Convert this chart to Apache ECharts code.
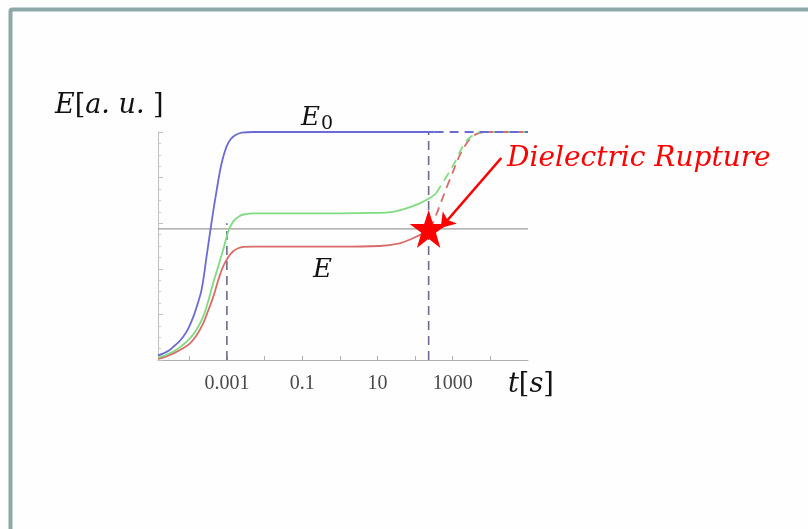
<!DOCTYPE html>
<html>
<head>
<meta charset="utf-8">
<script src="https://cdn.jsdelivr.net/npm/echarts@6/dist/echarts.min.js"></script>
<style>
html,body{margin:0;padding:0;background:#fefefe;}
#chart{width:808px;height:529px;}
</style>
</head>
<body>
<div id="chart"></div>
<script>
// x values are log10(t [s])
const xMin = -4.83, xMax = 5;
const tickValues = [-3, -1, 1, 3];
const tickLabels = ['0.001', '0.1', '10', '1000'];
const decadeTicks = [-4, -3, -2, -1, 0, 1, 2, 3, 4];

const blueSolidX = [-4.83, -4.7, -4.55, -4.42, -4.29, -4.16, -4.02, -3.89, -3.78, -3.67, -3.54, -3.41, -3.27, -3.14, -3.01, -2.9, -2.78, -2.6, -2.3, 0, 2.52];
const blueSolidY = [0.02, 0.028, 0.041, 0.058, 0.077, 0.102, 0.14, 0.19, 0.245, 0.31, 0.453, 0.6, 0.746, 0.863, 0.936, 0.968, 0.986, 0.997, 1, 1, 1];
const blueDashX = [2.52, 5];
const blueDashY = [1, 1];

const greenSolidX = [-4.83, -4.62, -4.42, -4.2, -3.98, -3.8, -3.63, -3.5, -3.36, -3.23, -3.1, -2.97, -2.83, -2.66, -2.5, -2.3, 0, 0.88, 1.41, 1.77, 2.12, 2.38, 2.56];
const greenSolidY = [0.01, 0.022, 0.037, 0.062, 0.095, 0.135, 0.19, 0.255, 0.34, 0.41, 0.482, 0.56, 0.608, 0.632, 0.64, 0.643, 0.643, 0.645, 0.65, 0.665, 0.687, 0.709, 0.731];
const greenDashX = [2.56, 3.0, 3.34, 3.58, 3.8, 5];
const greenDashY = [0.731, 0.85, 0.955, 0.99, 1, 1];

const redSolidX = [-4.83, -4.62, -4.42, -4.2, -3.98, -3.8, -3.63, -3.5, -3.36, -3.23, -3.1, -2.97, -2.83, -2.7, -2.57, -2.3, 0, 1.06, 1.59, 1.94, 2.2, 2.36];
const redSolidY = [0.005, 0.015, 0.029, 0.048, 0.073, 0.11, 0.161, 0.215, 0.278, 0.35, 0.41, 0.45, 0.477, 0.49, 0.496, 0.497, 0.497, 0.5, 0.512, 0.534, 0.555, 0.575];
const redDashX = [2.36, 2.48, 2.92, 3.34, 3.71, 4.0, 5];
const redDashY = [0.575, 0.605, 0.79, 0.943, 0.996, 1, 1];

const breakdownLevel = 0.575;
const vlineX = [-3, 2.36];
const vlineTop = [0.6, 1];
const starPoint = [2.36, 0.575];
const arrowFrom = [4.29, 0.886];
const arrowTo = [2.68, 0.579];

function pairs(xs, ys) { return xs.map((x, i) => [x, ys[i]]); }

const BLUE = '#6b6bd6', GREEN = '#7fdc7f', RED = '#d96b6b';
const STAR = 'path://M50,0 L61.8,35.3 L100,35.3 L69.1,57.1 L80.9,95.1 L50,72 L19.1,95.1 L30.9,57.1 L0,35.3 L38.2,35.3 Z';

function lineSeries(xs, ys, color, dashed, z) {
  return {
    type: 'line', data: pairs(xs, ys), showSymbol: false, smooth: 0.4,
    lineStyle: { color: color, width: 1.8, type: dashed ? [9, 6] : 'solid' },
    z: z, silent: true
  };
}

const series = [
  { type: 'line', data: [[xMin, breakdownLevel], [xMax, breakdownLevel]], showSymbol: false,
    lineStyle: { color: '#9a9a9a', width: 1.2 }, z: 1, silent: true },
  ...vlineX.map((x, i) => ({ type: 'line', data: [[x, 0], [x, vlineTop[i]]], showSymbol: false,
    lineStyle: { color: '#6a6a92', width: 1.6, type: [9, 6] }, z: 2, silent: true })),
  lineSeries(redDashX, redDashY, RED, true, 3),
  lineSeries(greenDashX, greenDashY, GREEN, true, 3),
  lineSeries(blueDashX, blueDashY, BLUE, true, 4),
  lineSeries(redSolidX, redSolidY, RED, false, 5),
  lineSeries(greenSolidX, greenSolidY, GREEN, false, 5),
  lineSeries(blueSolidX, blueSolidY, BLUE, false, 5),
  { type: 'scatter', data: [starPoint], symbol: STAR, symbolSize: 38,
    itemStyle: { color: '#ff0000', opacity: 1 }, z: 10, silent: true,
    markLine: { silent: true, symbol: ['none', 'arrow'], symbolSize: 14, label: { show: false },
      lineStyle: { color: '#ff0000', width: 2.6, type: 'solid', opacity: 1 },
      data: [[{ coord: arrowFrom }, { coord: arrowTo }]] } }
];

const chart = echarts.init(document.getElementById('chart'), null, { renderer: 'canvas' });
const MATH = '"DejaVu Serif", serif';
chart.setOption({
  animation: false,
  backgroundColor: '#fefefe',
  grid: { left: 158, right: 280, top: 132, bottom: 169 },
  xAxis: {
    type: 'value', min: xMin, max: xMax,
    axisLine: { onZero: false, lineStyle: { color: '#b0b0b0', width: 1 } },
    axisTick: { inside: true, length: 4, customValues: decadeTicks, lineStyle: { color: '#b0b0b0' } },
    axisLabel: { customValues: tickValues, formatter: v => tickLabels[tickValues.indexOf(v)],
      fontFamily: '"Liberation Serif", serif', fontSize: 20, color: '#4a4a4a', margin: 14 },
    splitLine: { show: false }
  },
  yAxis: {
    type: 'value', min: 0, max: 1, interval: 0.2,
    axisLine: { onZero: false, lineStyle: { color: '#c0c0c0', width: 1 } },
    axisTick: { inside: true, length: 5, lineStyle: { color: '#c0c0c0' } },
    minorTick: { show: true, splitNumber: 4, length: 3, lineStyle: { color: '#cccccc' } },
    axisLabel: { show: false },
    splitLine: { show: false }
  },
  graphic: [
    { type: 'rect', shape: { x: 10.5, y: 9.5, width: 900, height: 600, r: 2 },
      style: { fill: 'none', stroke: '#8ea7a9', lineWidth: 4 }, z: -10, silent: true },
    { type: 'text', x: 55, y: 106, silent: true,
      style: { text: '{i|E}{n|[}{i|a. u. }{n|]}', verticalAlign: 'middle',
        rich: { i: { fontFamily: MATH, fontStyle: 'italic', fontSize: 27, fill: '#111' },
                n: { fontFamily: MATH, fontSize: 27, fill: '#111' } } } },
    { type: 'text', x: 301, y: 118, silent: true,
      style: { text: 'E', font: 'italic 26px ' + MATH, fill: '#111', verticalAlign: 'middle' } },
    { type: 'text', x: 321, y: 124, silent: true,
      style: { text: '0', font: '19px ' + MATH, fill: '#111', verticalAlign: 'middle' } },
    { type: 'text', x: 313, y: 270, silent: true,
      style: { text: 'E', font: 'italic 26px ' + MATH, fill: '#111', verticalAlign: 'middle' } },
    { type: 'text', x: 508, y: 385, silent: true,
      style: { text: '{i|t}{n|[}{i|s}{n|]}', verticalAlign: 'middle',
        rich: { i: { fontFamily: MATH, fontStyle: 'italic', fontSize: 27, fill: '#111' },
                n: { fontFamily: MATH, fontSize: 27, fill: '#111' } } } },
    { type: 'text', x: 507, y: 159, silent: true,
      style: { text: 'Dielectric Rupture', font: 'italic 28px ' + MATH, fill: '#ff0000', verticalAlign: 'middle' } }
  ],
  series: series
});
</script>
</body>
</html>
